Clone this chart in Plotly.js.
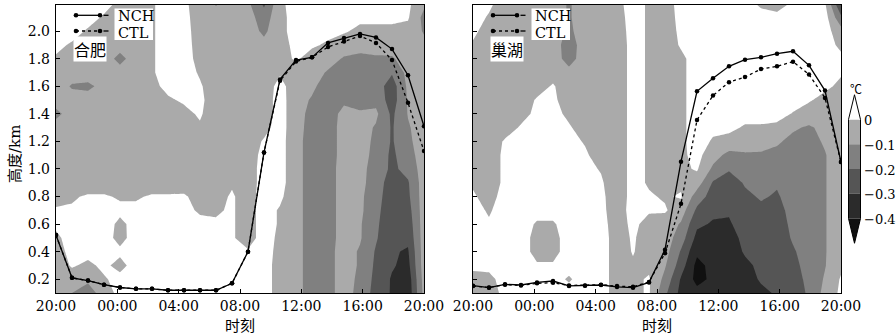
<!DOCTYPE html>
<html><head><meta charset="utf-8">
<script src="https://cdn.plot.ly/plotly-3.0.1.min.js"></script>
<style>html,body{margin:0;padding:0;background:#fff}#chart{width:896px;height:334px}</style>
</head><body><div id="chart"></div>
<script>
// ---------------- data ----------------
var TIME_LABELS = ['20:00','00:00','04:00','08:00','12:00','16:00','20:00'];
var TIME_LABEL_HOURS = [0,4,8,12,16,20,24];
var HOURS = [0,1,2,3,4,5,6,7,8,9,10,11,12,13,14,15,16,17,18,19,20,21,22,23]; // hourly sample index
var HEIGHTS = [0.1,0.2,0.3,0.4,0.5,0.6,0.7,0.8,0.9,1.0,1.1,1.2,1.3,1.4,1.5,1.6,1.7,1.8,1.9,2.0,2.1,2.2];
var Y_TICKS = [0.2,0.4,0.6,0.8,1.0,1.2,1.4,1.6,1.8,2.0];

var HF_NCH = [0.52,0.21,0.19,0.16,0.14,0.13,0.13,0.12,0.12,0.12,0.12,0.17,0.40,1.12,1.65,1.79,1.81,1.915,1.95,1.98,1.955,1.87,1.68,1.31];
var HF_CTL = [0.52,0.21,0.19,0.16,0.14,0.13,0.13,0.12,0.12,0.12,0.12,0.17,0.40,1.12,1.64,1.78,1.81,1.885,1.925,1.965,1.915,1.79,1.48,1.13];
var CH_NCH = [0.153,0.139,0.163,0.158,0.177,0.187,0.151,0.153,0.158,0.144,0.139,0.177,0.414,1.053,1.564,1.659,1.745,1.793,1.81,1.837,1.854,1.752,1.569,1.05];
var CH_CTL = [0.15,0.14,0.16,0.155,0.17,0.175,0.155,0.155,0.16,0.15,0.145,0.18,0.389,0.747,1.355,1.533,1.63,1.667,1.725,1.745,1.779,1.686,1.516,1.05];

// temperature difference profiles (one list per hour, bottom to top), degC
var HF_DT = [
 [-0.05,-0.05,-0.05,-0.04,-0.02,0.02,0.01,-0.03,-0.05,-0.05,-0.05,-0.05,-0.05,-0.13,-0.05,-0.05,-0.04,-0.01,0.02,0.04,0.05,0.05],
 [-0.10,-0.05,0.01,0.03,0.04,0.03,0.01,-0.01,-0.05,-0.05,-0.05,-0.05,-0.05,-0.05,-0.06,-0.11,-0.05,-0.04,-0.01,0.03,0.05,0.05],
 [-0.15,-0.08,-0.02,0.03,0.04,0.03,0.02,0.01,-0.05,-0.05,-0.05,-0.05,-0.05,-0.05,-0.06,-0.12,-0.05,-0.05,-0.04,-0.01,0.03,0.05],
 [-0.05,-0.01,0.02,0.04,0.04,0.04,0.03,0.01,-0.05,-0.05,-0.05,-0.05,-0.05,-0.05,-0.05,-0.07,-0.05,-0.05,-0.05,-0.04,-0.01,0.03],
 [0.03,0.03,-0.03,0.02,-0.03,-0.02,0.02,-0.01,-0.05,-0.05,-0.05,-0.05,-0.05,-0.05,-0.05,-0.05,-0.06,-0.13,-0.06,-0.05,-0.05,-0.02],
 [0.04,0.04,0.04,0.04,0.04,0.03,0.02,-0.01,-0.05,-0.05,-0.05,-0.05,-0.05,-0.05,-0.05,-0.05,-0.05,-0.05,-0.05,-0.05,-0.05,-0.05],
 [0.04,0.04,0.04,0.04,0.04,0.03,0.02,0.01,-0.05,-0.05,-0.05,-0.05,-0.05,-0.05,-0.04,-0.02,-0.01,-0.01,-0.01,-0.01,-0.01,-0.01],
 [0.04,0.04,0.04,0.04,0.04,0.03,0.02,0.01,-0.05,-0.05,-0.05,-0.05,-0.05,-0.05,-0.01,0.02,0.04,0.04,0.04,0.04,0.04,0.04],
 [0.04,0.04,0.04,0.04,0.04,0.03,0.02,0.01,-0.04,-0.05,-0.05,-0.05,-0.05,-0.02,0.01,0.03,0.04,0.04,0.04,0.04,0.03,0.02],
 [0.04,0.04,0.04,0.04,0.03,0.02,-0.01,-0.03,-0.05,-0.05,-0.05,-0.05,-0.01,0.01,0.02,0.01,-0.01,-0.03,-0.04,-0.05,-0.05,-0.05],
 [0.04,0.04,0.04,0.02,0.02,0.01,-0.01,-0.03,-0.05,-0.05,-0.05,-0.05,-0.05,-0.05,-0.05,-0.05,-0.05,-0.05,-0.05,-0.05,-0.05,-0.11],
 [0.04,0.04,0.03,0.02,0.01,0.01,0.01,0.01,-0.01,-0.05,-0.05,-0.05,-0.05,-0.05,-0.05,-0.05,-0.05,-0.05,-0.05,-0.05,-0.05,-0.06],
 [0.04,0.03,0.02,0.01,-0.04,-0.04,-0.04,-0.04,-0.05,-0.05,-0.05,-0.05,-0.05,-0.05,-0.05,-0.05,-0.05,-0.05,-0.05,-0.05,-0.06,-0.08],
 [0.04,0.04,0.04,0.04,0.04,0.04,0.04,0.04,0.04,0.04,0.03,0.01,-0.03,-0.05,-0.05,-0.05,-0.05,-0.05,-0.07,-0.12,-0.15,-0.22],
 [-0.04,-0.04,-0.04,-0.03,-0.02,-0.01,-0.01,0.02,0.04,0.04,0.04,0.04,0.04,0.04,0.04,0.03,-0.01,-0.03,-0.03,-0.03,-0.03,-0.02],
 [-0.07,-0.07,-0.07,-0.07,-0.07,-0.07,-0.07,-0.07,-0.07,-0.07,-0.07,-0.07,-0.06,-0.06,-0.06,-0.05,-0.04,0.01,0.02,0.04,0.04,0.04],
 [-0.14,-0.14,-0.14,-0.14,-0.14,-0.14,-0.14,-0.14,-0.14,-0.14,-0.14,-0.14,-0.14,-0.13,-0.11,-0.08,-0.06,-0.03,0.01,0.04,0.04,0.04],
 [-0.13,-0.13,-0.13,-0.13,-0.14,-0.14,-0.14,-0.14,-0.14,-0.14,-0.15,-0.15,-0.15,-0.15,-0.16,-0.15,-0.11,-0.06,-0.01,0.02,0.04,0.04],
 [-0.06,-0.06,-0.06,-0.06,-0.06,-0.06,-0.06,-0.06,-0.06,-0.06,-0.06,-0.06,-0.06,-0.07,-0.12,-0.15,-0.14,-0.11,-0.05,0.01,0.03,0.04],
 [-0.13,-0.12,-0.11,-0.11,-0.09,-0.09,-0.08,-0.08,-0.07,-0.07,-0.06,-0.06,-0.06,-0.09,-0.13,-0.15,-0.15,-0.12,-0.07,-0.02,0.02,0.04],
 [-0.24,-0.23,-0.22,-0.21,-0.19,-0.18,-0.17,-0.16,-0.15,-0.14,-0.13,-0.12,-0.11,-0.08,-0.13,-0.15,-0.15,-0.11,-0.07,-0.02,0.02,0.04],
 [-0.31,-0.31,-0.29,-0.29,-0.28,-0.28,-0.27,-0.26,-0.25,-0.22,-0.22,-0.21,-0.21,-0.22,-0.25,-0.25,-0.19,-0.11,-0.06,-0.02,0.02,0.04],
 [-0.37,-0.36,-0.33,-0.31,-0.28,-0.26,-0.24,-0.22,-0.21,-0.17,-0.14,-0.12,-0.11,-0.095,-0.09,-0.08,-0.07,-0.06,-0.05,-0.03,0.01,0.02],
 [-0.07,-0.06,-0.05,-0.05,-0.05,-0.05,-0.05,-0.05,-0.05,-0.05,-0.05,-0.05,-0.05,-0.05,-0.05,-0.05,-0.05,-0.06,-0.07,-0.11,-0.13,-0.08]
];
var CH_DT = [
 [-0.05,-0.03,0.02,0.04,0.04,0.04,0.03,0.01,-0.01,-0.05,-0.05,-0.05,-0.05,-0.05,-0.05,-0.05,-0.05,-0.05,-0.01,0.02,0.04,0.04],
 [-0.05,-0.02,0.02,0.03,0.03,0.01,-0.01,-0.03,-0.05,-0.05,-0.05,-0.05,-0.05,-0.05,-0.05,-0.05,-0.05,-0.05,-0.05,-0.04,-0.01,0.02],
 [0.03,0.03,0.04,0.04,0.04,0.04,0.04,0.03,0.02,0.02,0.02,0.01,-0.04,-0.05,-0.05,-0.05,-0.05,-0.05,-0.05,-0.05,-0.05,-0.05],
 [0.03,0.04,0.04,0.04,0.04,0.04,0.04,0.04,0.04,0.03,0.03,0.02,0.01,-0.03,-0.05,-0.05,-0.05,-0.05,-0.05,-0.05,-0.05,-0.05],
 [0.03,0.03,0.01,-0.03,-0.03,-0.01,0.03,0.04,0.04,0.04,0.04,0.04,0.03,0.02,0.01,-0.04,-0.05,-0.05,-0.05,-0.05,-0.05,-0.05],
 [0.03,0.03,0.01,-0.03,-0.03,-0.01,0.03,0.04,0.04,0.04,0.04,0.04,0.04,0.03,0.02,0.01,-0.04,-0.05,-0.05,-0.05,-0.05,-0.05],
 [0.03,-0.01,0.03,0.04,0.04,0.04,0.04,0.04,0.04,0.04,0.03,0.02,0.01,-0.02,-0.05,-0.06,-0.07,-0.14,-0.15,-0.12,-0.11,-0.11],
 [0.04,0.04,0.04,0.04,0.04,0.04,0.04,0.04,0.03,0.02,0.01,-0.005,-0.04,-0.05,-0.05,-0.05,-0.05,-0.05,-0.05,-0.05,-0.05,-0.05],
 [0.04,0.04,0.04,0.04,0.04,0.03,0.02,0.02,0.01,-0.005,-0.03,-0.05,-0.05,-0.05,-0.05,-0.05,-0.05,-0.05,-0.05,-0.05,-0.05,-0.05],
 [-0.04,-0.04,-0.04,-0.04,-0.04,-0.04,-0.04,-0.05,-0.05,-0.05,-0.05,-0.05,-0.05,-0.05,-0.05,-0.05,-0.05,-0.05,-0.05,-0.04,-0.03,-0.02],
 [-0.02,-0.02,-0.01,0.005,0.01,0.02,0.03,0.03,0.03,0.03,0.03,0.03,0.03,0.03,0.03,0.03,0.03,0.03,0.03,0.03,0.03,0.03],
 [0.01,0.01,-0.02,-0.04,-0.04,-0.03,0.01,0.01,-0.01,-0.01,-0.01,-0.01,-0.01,-0.01,-0.01,-0.01,-0.01,-0.01,-0.01,-0.01,-0.01,-0.01],
 [-0.18,-0.13,-0.09,-0.06,-0.05,-0.04,0.01,-0.01,-0.04,-0.05,-0.05,-0.05,-0.05,-0.05,-0.05,-0.05,-0.05,-0.05,-0.05,-0.05,-0.05,-0.05],
 [-0.33,-0.31,-0.25,-0.21,-0.15,-0.11,-0.05,0.01,-0.02,-0.02,-0.02,-0.02,-0.02,-0.02,-0.02,-0.02,-0.02,-0.02,0.01,0.02,0.03,0.04],
 [-0.37,-0.43,-0.43,-0.38,-0.33,-0.28,-0.22,-0.15,-0.05,0.01,0.03,0.04,0.04,0.04,0.04,0.04,0.04,0.04,0.04,0.04,0.04,0.04],
 [-0.36,-0.38,-0.37,-0.36,-0.34,-0.31,-0.28,-0.24,-0.21,-0.12,-0.06,-0.01,0.02,0.03,0.04,0.04,0.04,0.04,0.04,0.04,0.04,0.04],
 [-0.38,-0.37,-0.36,-0.35,-0.33,-0.31,-0.29,-0.27,-0.25,-0.19,-0.13,-0.03,0.02,0.03,0.04,0.04,0.04,0.04,0.04,0.04,0.04,0.04],
 [-0.36,-0.34,-0.32,-0.29,-0.28,-0.26,-0.24,-0.22,-0.19,-0.17,-0.11,-0.06,-0.01,0.03,0.04,0.04,0.04,0.04,0.04,0.04,0.04,0.04],
 [-0.32,-0.29,-0.28,-0.27,-0.26,-0.24,-0.22,-0.19,-0.17,-0.14,-0.11,-0.07,-0.01,0.03,0.04,0.04,0.04,0.04,0.04,0.04,0.04,-0.02],
 [-0.29,-0.28,-0.27,-0.26,-0.25,-0.24,-0.23,-0.21,-0.19,-0.15,-0.12,-0.09,-0.02,0.03,0.04,0.04,0.04,0.04,0.04,0.04,0.02,-0.03],
 [-0.27,-0.25,-0.23,-0.21,-0.19,-0.18,-0.17,-0.16,-0.15,-0.14,-0.13,-0.12,-0.09,-0.005,0.03,0.04,0.04,0.04,0.04,0.04,0.04,0.01],
 [-0.18,-0.17,-0.16,-0.16,-0.15,-0.15,-0.15,-0.15,-0.15,-0.15,-0.14,-0.13,-0.11,-0.05,0.01,0.03,0.04,0.04,0.04,0.04,0.04,0.04],
 [-0.07,-0.09,-0.105,-0.105,-0.105,-0.105,-0.105,-0.105,-0.105,-0.105,-0.105,-0.09,-0.08,-0.06,-0.03,0.02,0.04,0.04,0.04,0.04,0.04,0.01],
 [0.02,0.01,-0.02,-0.05,-0.05,-0.05,-0.05,-0.05,-0.05,-0.05,-0.05,-0.05,-0.05,-0.05,-0.04,-0.02,0.01,0.02,-0.02,-0.06,-0.18,-0.31]
];

var LEVELS = [0,-0.1,-0.2,-0.3,-0.4];
var LEVEL_LABELS = ['0','\u22120.1','\u22120.2','\u22120.3','\u22120.4'];
var SERIES_NAMES = ['NCH','CTL'];
var STATIONS = ['合肥','巢湖'];
var X_TITLE = '时刻';
var Y_TITLE = '高度/km';
var UNIT = '℃';

// ---------------- style ----------------
var SERIF = 'DejaVu Serif, Noto Sans CJK SC, serif';
var CJK = 'Noto Sans CJK SC, DejaVu Serif, sans-serif';
var FS = 14;
var C_TOP = '#ffffff', C_BOT = '#101010';
var BAND_COLORS = ['#aaaaaa','#808080','#555555','#2b2b2b']; // 0..-0.1, ..., -0.3..-0.4
var CS = [[0,C_BOT],[0.2,BAND_COLORS[3]],[0.4,BAND_COLORS[2]],[0.6,BAND_COLORS[1]],[0.8,BAND_COLORS[0]],[1,C_TOP]];

var FW=896, FH=334, M={l:56,r:55,t:5,b:41};
var PW=FW-M.l-M.r, PH=FH-M.t-M.b, PANEL=368;
function pX(px){return (px-M.l)/PW;}
function pY(py){return (FH-M.b-py)/PH;}
function dX(rel){return rel/PANEL;}
function dY(relTop){return 1-relTop/PH;}

var NSTEP = HOURS.length-1;
var TICKVALS = TIME_LABEL_HOURS.map(function(h){return h*NSTEP/24;});

function contourTrace(z, xa, ya){
  return {type:'contour', x:HOURS, y:HEIGHTS, z:z, transpose:true, xaxis:xa, yaxis:ya,
    contours:{start:LEVELS[LEVELS.length-1], end:LEVELS[0], size:0.1, coloring:'fill', showlines:false},
    line:{width:0, smoothing:0}, colorscale:CS, showscale:false, hoverinfo:'skip'};
}
function lineTrace(y, xa, ya, dash){
  return {type:'scatter', mode:'lines+markers', x:HOURS, y:y, xaxis:xa, yaxis:ya,
    line:{color:'#000', width:1.3, dash:dash}, marker:{color:'#000', size:4.5}, hoverinfo:'skip', showlegend:false};
}
var data = [
  contourTrace(HF_DT,'x','y'), lineTrace(HF_NCH,'x','y','solid'), lineTrace(HF_CTL,'x','y','dot'),
  contourTrace(CH_DT,'x2','y2'), lineTrace(CH_NCH,'x2','y2','solid'), lineTrace(CH_CTL,'x2','y2','dot')
];

function xAx(dom, anchor){
  return {domain:dom, anchor:anchor, range:[0,NSTEP], tickmode:'array', tickvals:TICKVALS, ticktext:TIME_LABELS,
    ticks:'inside', ticklen:4, tickwidth:1, tickcolor:'#000', showline:true, linecolor:'#000', linewidth:1.2,
    mirror:true, showgrid:false, zeroline:false, tickfont:{family:SERIF,size:FS,color:'#000'}, ticklabelstandoff:0, fixedrange:true};
}
function yAx(anchor, labels){
  return {anchor:anchor, range:[0.1,2.19], tickmode:'array', tickvals:Y_TICKS,
    ticktext:Y_TICKS.map(function(v){return v.toFixed(1);}), showticklabels:labels,
    ticks:'inside', ticklen:4, tickwidth:1, tickcolor:'#000', showline:true, linecolor:'#000', linewidth:1.2,
    mirror:true, showgrid:false, zeroline:false, tickfont:{family:SERIF,size:FS,color:'#000'}, ticklabelstandoff:2, fixedrange:true};
}

var shapes = [], annotations = [];
function addLegend(xr, yr, station){
  // white box behind the legend labels
  shapes.push({type:'rect', xref:xr, yref:yr, x0:dX(58.5), x1:dX(97), y0:dY(3.5), y1:dY(35), fillcolor:'#fff', line:{width:0}, layer:'above'});
  var rows = [{y:10.3, dash:'solid', name:SERIES_NAMES[0], ty:10.8},{y:26, dash:'dot', name:SERIES_NAMES[1], ty:27.8}];
  rows.forEach(function(r){
    shapes.push({type:'line', xref:xr, yref:yr, x0:dX(20), x1:dX(44), y0:dY(r.y), y1:dY(r.y), line:{color:'#000', width:1.3, dash:r.dash}});
    shapes.push({type:'line', xref:xr, yref:yr, x0:dX(47.5), x1:dX(52.5), y0:dY(r.y), y1:dY(r.y), line:{color:'#000', width:1.3}});
    [20,44].forEach(function(cx){
      shapes.push({type:'circle', xref:xr, yref:yr, x0:dX(cx-2.3), x1:dX(cx+2.3), y0:dY(r.y+2.3), y1:dY(r.y-2.3), fillcolor:'#000', line:{width:0}});
    });
    annotations.push({xref:xr, yref:yr, x:dX(60), y:dY(r.ty), xanchor:'left', yanchor:'middle', text:r.name, showarrow:false,
      font:{family:SERIF,size:14.5,color:'#000'}});
  });
  annotations.push({xref:xr, yref:yr, x:dX(17), y:dY(44), xanchor:'left', yanchor:'middle', text:station, showarrow:false,
      bgcolor:'#fff', borderpad:0, font:{family:CJK,size:16,color:'#000'}});
}
addLegend('x domain','y domain',STATIONS[0]);
addLegend('x2 domain','y2 domain',STATIONS[1]);

// axis titles
['x domain','x2 domain'].forEach(function(xr){
  annotations.push({xref:xr, yref:'paper', x:0.5, y:pY(324.5), xanchor:'center', yanchor:'middle', text:X_TITLE, showarrow:false, font:{family:CJK,size:15,color:'#000'}});
});
annotations.push({xref:'paper', yref:'paper', x:pX(15), y:pY(154), xanchor:'center', yanchor:'middle', textangle:-90, text:Y_TITLE, showarrow:false, font:{family:SERIF,size:15,color:'#000'}});

// colour bar (extend both ends)
var CB_L=848.5, CB_R=860.5, CB_Y0=119.5, CB_STEP=24.75;
function cbY(level){return CB_Y0 + (LEVELS[0]-level)/0.1*CB_STEP;}
var cbMid=(CB_L+CB_R)/2;
for (var k=0;k<LEVELS.length-1;k++){
  shapes.push({type:'rect', xref:'paper', yref:'paper', x0:pX(CB_L), x1:pX(CB_R), y0:pY(cbY(LEVELS[k])), y1:pY(cbY(LEVELS[k+1])), fillcolor:BAND_COLORS[k], line:{width:0}});
}
var topY=cbY(LEVELS[0]), botY=cbY(LEVELS[LEVELS.length-1]);
function P(x,y){return pX(x)+','+pY(y);}
shapes.push({type:'path', xref:'paper', yref:'paper', path:'M'+P(CB_L,topY)+' L'+P(cbMid,topY-CB_STEP)+' L'+P(CB_R,topY)+' Z', fillcolor:C_TOP, line:{width:0}});
shapes.push({type:'path', xref:'paper', yref:'paper', path:'M'+P(CB_L,botY)+' L'+P(cbMid,botY+CB_STEP)+' L'+P(CB_R,botY)+' Z', fillcolor:C_BOT, line:{width:0}});
shapes.push({type:'path', xref:'paper', yref:'paper', path:'M'+P(CB_L,topY)+' L'+P(cbMid,topY-CB_STEP)+' L'+P(CB_R,topY)+' L'+P(CB_R,botY)+' L'+P(cbMid,botY+CB_STEP)+' L'+P(CB_L,botY)+' Z', fillcolor:'rgba(0,0,0,0)', line:{color:'#000', width:1}});
LEVELS.forEach(function(lv,i){
  annotations.push({xref:'paper', yref:'paper', x:pX(862), y:pY(cbY(lv)+1), xanchor:'left', yanchor:'middle', text:LEVEL_LABELS[i], showarrow:false, font:{family:SERIF,size:13,color:'#000'}});
});
annotations.push({xref:'paper', yref:'paper', x:pX(cbMid+1), y:pY(88), xanchor:'center', yanchor:'middle', text:UNIT, showarrow:false, font:{family:CJK,size:12,color:'#000'}});

var layout = {
  width:FW, height:FH, margin:M, paper_bgcolor:'#fff', plot_bgcolor:'#fff', showlegend:false,
  font:{family:SERIF, size:FS, color:'#000'},
  xaxis:xAx([0, PANEL/PW],'y'), yaxis:yAx('x', true),
  xaxis2:xAx([(PW-PANEL)/PW, 1],'y2'), yaxis2:yAx('x2', false),
  shapes:shapes, annotations:annotations
};
Plotly.newPlot('chart', data, layout, {staticPlot:true, displayModeBar:false});
</script></body></html>
